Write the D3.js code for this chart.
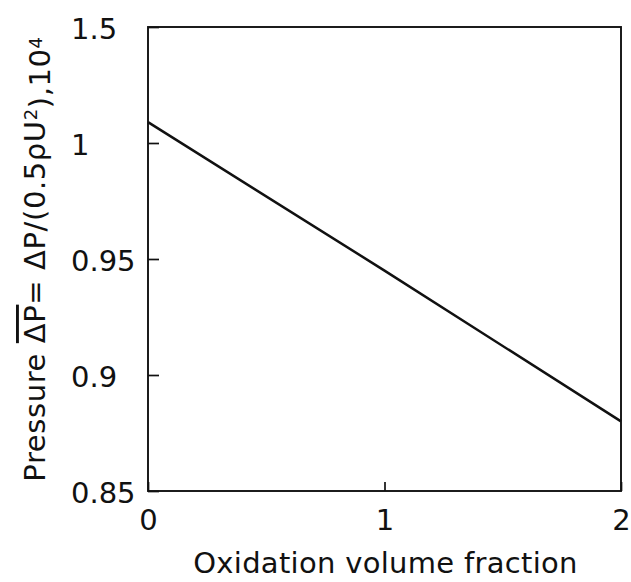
<!DOCTYPE html>
<html>
<head>
<meta charset="utf-8">
<script src="https://cdn.jsdelivr.net/npm/d3@7"></script>
<style>
  body { margin: 0; background: #fff; }
  svg text { font-family: "DejaVu Sans", sans-serif; fill: #111; }
</style>
</head>
<body>
<div id="chart"></div>
<script>
// values
var fraction = [0, 1, 2];
var pressure = [1.009, 0.945, 0.880];

var xTicks = [0, 1, 2];
var yTicks = [0.85, 0.9, 0.95, 1, 1.05];
// top label is printed "1.5" in the original figure
var yTickLabels = ["0.85", "0.9", "0.95", "1", "1.5"];

var width = 631, height = 582;
var margin = {top: 27, right: 10, bottom: 91, left: 148};
var plotW = 621 - margin.left,
    plotH = height - margin.top - margin.bottom;

var svg = d3.select('#chart').append('svg')
    .attr('width', width)
    .attr('height', height);

var g = svg.append('g')
    .attr('transform', 'translate(' + margin.left + ',' + margin.top + ')');

var x = d3.scaleLinear().domain([0, 2]).range([0, plotW]);
var y = d3.scaleLinear().domain([0.85, 1.05]).range([plotH, 0]);

// y axis, ticks pointing inward, labels left aligned
var yAxis = g.append('g')
    .call(d3.axisLeft(y)
      .tickValues(yTicks)
      .tickSize(-11)
      .tickFormat(function(d, i) { return yTickLabels[i]; }));
yAxis.select('.domain').remove();
yAxis.selectAll('line').attr('stroke', '#111').attr('stroke-width', 1.7);
yAxis.selectAll('text')
    .attr('x', -77)
    .attr('dy', '0.38em')
    .attr('text-anchor', 'start')
    .style('font-size', '29px');

var xAxis = g.append('g')
    .attr('transform', 'translate(0,' + plotH + ')')
    .call(d3.axisBottom(x)
      .tickValues(xTicks)
      .tickSize(-9)
      .tickFormat(d3.format('d')));
xAxis.select('.domain').remove();
xAxis.selectAll('line').attr('stroke', '#111').attr('stroke-width', 1.7);
xAxis.selectAll('text')
    .attr('y', 39)
    .attr('dy', 0)
    .style('font-size', '29px');

// frame
g.append('rect')
    .attr('width', plotW)
    .attr('height', plotH)
    .attr('fill', 'none')
    .attr('stroke', '#111')
    .attr('stroke-width', 1.9);

var line = d3.line()
    .x(function(d) { return x(d[0]); })
    .y(function(d) { return y(d[1]); });

g.append('path')
    .datum(d3.zip(fraction, pressure))
    .attr('fill', 'none')
    .attr('stroke', '#111')
    .attr('stroke-width', 2.5)
    .attr('d', line);

// axis titles
svg.append('text')
    .attr('x', margin.left + plotW / 2 + 1)
    .attr('y', 573)
    .attr('text-anchor', 'middle')
    .style('font-size', '29px')
    .style('letter-spacing', '0.3px')
    .text('Oxidation volume fraction');

var yTitle = svg.append('text')
    .attr('transform', 'translate(45,' + (margin.top + plotH / 2) + ') rotate(-90)')
    .attr('text-anchor', 'middle')
    .style('font-size', '29px')
    .style('letter-spacing', '0.6px');
yTitle.append('tspan').text('Pressure ');
yTitle.append('tspan').style('text-decoration', 'overline').text('ΔP');
yTitle.append('tspan').text('= ΔP/(0.5ρU');
yTitle.append('tspan').attr('dy', '-0.45em').style('font-size', '18px').text('2');
yTitle.append('tspan').attr('dy', '0.45em').text('),10');
yTitle.append('tspan').attr('dy', '-0.45em').style('font-size', '18px').text('4');
</script>
</body>
</html>
